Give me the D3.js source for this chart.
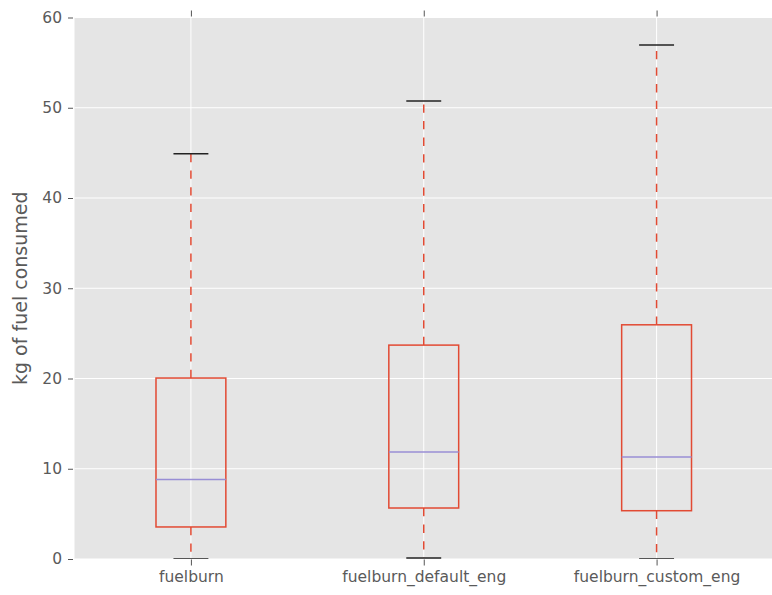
<!DOCTYPE html>
<html><head><meta charset="utf-8">
<script src="https://cdn.jsdelivr.net/npm/d3@7"></script>
<style>body{margin:0;background:#fff}svg{display:block}text{font-family:"DejaVu Sans",sans-serif}</style>
</head><body><svg id="c" width="772" height="595"></svg>
<script>
const categories = ["fuelburn", "fuelburn_default_eng", "fuelburn_custom_eng"];
const whiskerLow = [0, 0.1, 0];
const q1 = [3.55, 5.65, 5.35];
const median = [8.8, 11.85, 11.3];
const q3 = [20.05, 23.7, 25.95];
const whiskerHigh = [44.9, 50.75, 56.95];
const yTicks = [0, 10, 20, 30, 40, 50, 60];

const svg = d3.select("#c");
const L = 74.5, R = 773, T = 17.5, B = 559;
const x = d3.scaleLinear().domain([0.5, 3.5]).range([L, R]);
const y = d3.scaleLinear().domain([0, 60]).range([B, T]);
const pos = categories.map((d, i) => i + 1);
const boxW = 0.3, capW = 0.15;

svg.append("defs").append("clipPath").attr("id", "clip")
  .append("rect").attr("x", L).attr("y", T).attr("width", R - L).attr("height", B - T);

svg.append("rect").attr("x", L).attr("y", T).attr("width", R - L).attr("height", B - T).attr("fill", "#E5E5E5");

// grid
const g = svg.append("g");
g.selectAll("line.hy").data(yTicks).join("line")
  .attr("x1", L).attr("x2", R).attr("y1", d => y(d)).attr("y2", d => y(d))
  .attr("stroke", "#fff").attr("stroke-width", 1);
g.selectAll("line.vx").data(pos).join("line")
  .attr("x1", d => x(d)).attr("x2", d => x(d)).attr("y1", T).attr("y2", B)
  .attr("stroke", "#fff").attr("stroke-width", 1);

// axes
const yAxis = d3.axisLeft(y).tickValues(yTicks).tickSize(5).tickPadding(6);
const ya = svg.append("g").attr("transform", `translate(${L - 1.5},0)`).call(yAxis);
ya.select(".domain").remove();
ya.selectAll("line").attr("stroke", "#555");
ya.selectAll("text").attr("fill", "#5a5a5a").style("font-size", "15.5px");

const xAxisB = d3.axisBottom(x).tickValues(pos).tickFormat((d, i) => categories[i]).tickSize(6).tickPadding(5);
const xb = svg.append("g").attr("transform", `translate(0,${B + 0.5})`).call(xAxisB);
xb.select(".domain").remove();
xb.selectAll("line").attr("stroke", "#555");
xb.selectAll("text").attr("fill", "#5a5a5a").style("font-size", "15.5px");

const xAxisT = d3.axisTop(x).tickValues(pos).tickFormat("").tickSize(6);
const xt = svg.append("g").attr("transform", `translate(0,${T - 1})`).call(xAxisT);
xt.select(".domain").remove();
xt.selectAll("line").attr("stroke", "#555");

svg.append("text").attr("transform", `translate(27,${(T + B) / 2}) rotate(-90)`)
  .attr("text-anchor", "middle").attr("fill", "#5a5a5a").style("font-size", "19px")
  .text("kg of fuel consumed");

// boxes
const bp = svg.append("g").attr("clip-path", "url(#clip)");
const idx = d3.range(categories.length);
const red = "#E24A33";
// whiskers
bp.selectAll("line.wl").data(idx).join("line")
  .attr("x1", i => x(pos[i])).attr("x2", i => x(pos[i]))
  .attr("y1", i => y(q1[i])).attr("y2", i => y(whiskerLow[i]))
  .attr("stroke", red).attr("stroke-width", 1.5).attr("stroke-dasharray", "8.3,8.3");
bp.selectAll("line.wh").data(idx).join("line")
  .attr("x1", i => x(pos[i])).attr("x2", i => x(pos[i]))
  .attr("y1", i => y(q3[i])).attr("y2", i => y(whiskerHigh[i]))
  .attr("stroke", red).attr("stroke-width", 1.5).attr("stroke-dasharray", "8.3,8.3");
// caps
[whiskerLow, whiskerHigh].forEach(arr => {
  bp.append("g").selectAll("line").data(idx).join("line")
    .attr("x1", i => x(pos[i] - capW / 2)).attr("x2", i => x(pos[i] + capW / 2))
    .attr("y1", i => y(arr[i])).attr("y2", i => y(arr[i]))
    .attr("stroke", "#222").attr("stroke-width", 1.5);
});
// box
bp.selectAll("rect.box").data(idx).join("rect")
  .attr("x", i => x(pos[i] - boxW / 2)).attr("width", i => x(pos[i] + boxW / 2) - x(pos[i] - boxW / 2))
  .attr("y", i => y(q3[i])).attr("height", i => y(q1[i]) - y(q3[i]))
  .attr("fill", "none").attr("stroke", red).attr("stroke-width", 1.5);
// median
bp.selectAll("line.med").data(idx).join("line")
  .attr("x1", i => x(pos[i] - boxW / 2)).attr("x2", i => x(pos[i] + boxW / 2))
  .attr("y1", i => y(median[i])).attr("y2", i => y(median[i]))
  .attr("stroke", "#988ED5").attr("stroke-width", 1.5);
</script></body></html>
